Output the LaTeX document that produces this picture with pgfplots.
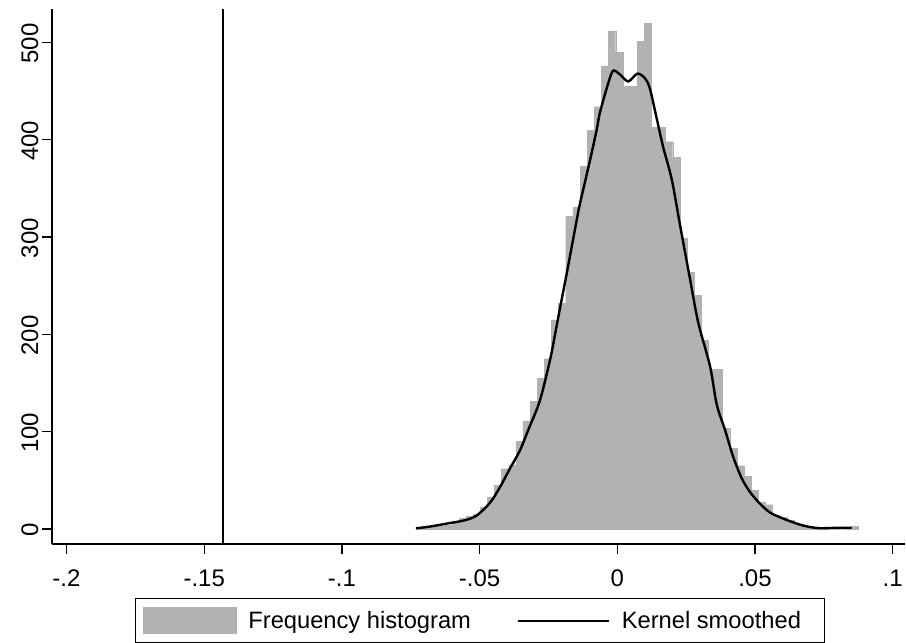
\documentclass[border=0pt]{standalone}
\usepackage{fontspec}
\setmainfont{Liberation Sans}
\usepackage{pgfplots}
\pgfplotsset{compat=1.18}
\definecolor{histgray}{RGB}{178,178,178}
\begin{document}
\begin{tikzpicture}
\useasboundingbox (-52pt,-99pt) rectangle (854pt,544pt);
\begin{axis}[
  at={(0pt,0pt)}, anchor=south west,
  scale only axis, width=853pt, height=535pt,
  xmin=-0.20526, xmax=0.10447, ymin=-15.42, ymax=534.4,
  axis lines=left, axis line style={-, line width=1.3pt, black},
  tick align=outside, major tick length=10pt, tick style={line width=1.3pt, black},
  xtick={-0.2,-0.15,-0.1,-0.05,0,0.05,0.1},
  xticklabels={-.2,-.15,-.1,-.05,0,.05,.1},
  ytick={0,100,200,300,400,500},
  yticklabels={0,100,200,300,400,500},
  ticklabel style={font=\fontsize{24}{28}\selectfont},
  xticklabel style={yshift=-12pt},
  yticklabel style={rotate=90, anchor=south, xshift=-1pt},
  legend columns=2,
  legend cell align=left,
  legend style={at={(0.5018,-0.1009)}, anchor=north, draw=black, line width=1pt,
    inner xsep=8pt, inner ysep=9pt, font=\fontsize{23.7}{28}\selectfont,
    nodes={inner sep=0pt},
    /tikz/every odd column/.append style={column sep=12pt},
    /tikz/every even column/.append style={column sep=46pt}},
]
\addplot[ybar interval, fill=histgray, draw=histgray, line width=0.3pt, area legend,
  legend image code/.code={\fill[histgray] (0pt,-13pt) rectangle (93pt,13pt);}]
coordinates {
(-0.07309,1) (-0.07050,1) (-0.06791,2) (-0.06532,3) (-0.06273,4) (-0.06014,6)
(-0.05755,11) (-0.05496,13) (-0.05237,15) (-0.04978,22) (-0.04719,33) (-0.04461,45)
(-0.04202,62) (-0.03943,66) (-0.03684,90) (-0.03425,111) (-0.03167,131) (-0.02908,155)
(-0.02649,175) (-0.02390,215) (-0.02131,232) (-0.01872,321) (-0.01613,331) (-0.01354,373)
(-0.01095,410) (-0.00836,434) (-0.00577,476) (-0.00318,512) (-0.00059,490) (0.00200,455)
(0.00458,455) (0.00717,501) (0.00976,520) (0.01235,413) (0.01494,413) (0.01753,398)
(0.02012,382) (0.02271,299) (0.02530,264) (0.02788,240) (0.03047,194) (0.03306,164)
(0.03565,164) (0.03824,104) (0.04083,83) (0.04342,65) (0.04601,54) (0.04860,40)
(0.05119,28) (0.05378,25) (0.05636,14) (0.05895,12) (0.06154,9) (0.06413,4)
(0.06672,3) (0.06931,2) (0.07190,1) (0.07449,1) (0.07708,0) (0.07967,0)
(0.08226,1) (0.08485,3) (0.08743,0)
};
\addlegendentry{Frequency histogram}
\addplot[black, line width=2.4pt, smooth,
  legend image code/.code={\draw[black, line width=1.8pt] (0pt,0pt) -- (91pt,0pt);}]
coordinates {
(-0.0731,0.7) (-0.0680,2.5) (-0.0620,5.5) (-0.0553,9) (-0.0510,14) (-0.0462,27)
(-0.0426,43) (-0.0390,62) (-0.0353,81) (-0.0323,102) (-0.0281,132) (-0.0244,174)
(-0.0226,200) (-0.0208,227) (-0.0184,262) (-0.0147,318) (-0.0135,335) (-0.0099,379)
(-0.0075,410) (-0.0063,428) (-0.0033,458) (-0.0015,471) (0.0010,467) (0.0040,460)
(0.0073,468) (0.0101,463) (0.0119,452) (0.0143,422) (0.0167,392) (0.0198,359)
(0.0228,312) (0.0264,257) (0.0294,212) (0.0337,167) (0.0361,128) (0.0391,102)
(0.0421,74) (0.0452,52) (0.0482,38) (0.0518,26) (0.0554,17) (0.0591,12)
(0.0627,8) (0.0663,4.5) (0.0700,2) (0.0736,0.8) (0.0797,1.2) (0.0851,1.3)
};
\addlegendentry{Kernel smoothed\rule{16pt}{0pt}}
\addplot[black, line width=1.8pt, forget plot] coordinates {(-0.1433,-15.42) (-0.1433,534.4)};
\end{axis}
\end{tikzpicture}
\end{document}
